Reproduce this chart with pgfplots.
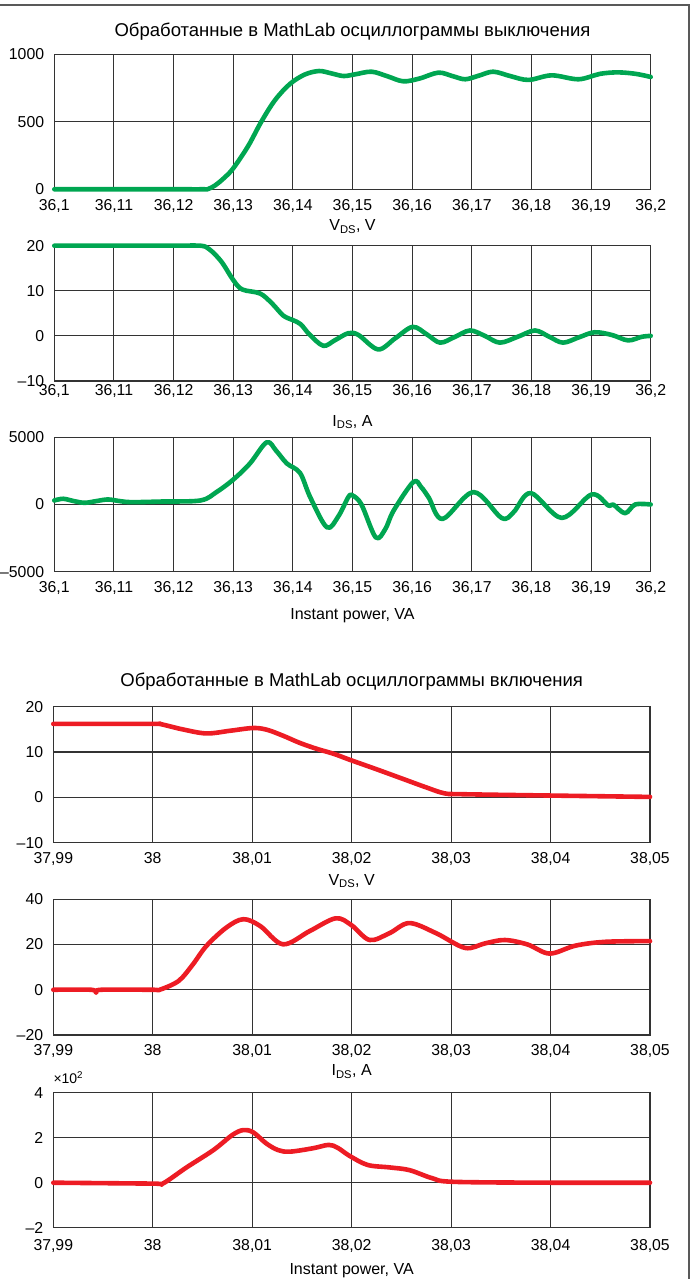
\documentclass[border=0pt]{standalone}
\usepackage{pgfplots}
\pgfplotsset{compat=1.18}
\usepackage{fontspec}
\setmainfont{Liberation Sans}
\definecolor{gridc}{HTML}{333333}
\definecolor{ogreen}{HTML}{00A651}
\definecolor{ored}{HTML}{ED1C24}
\newcommand\tickf{\fontsize{15.8}{18}\selectfont}
\newcommand\labf{\fontsize{16}{19}\selectfont}
\newcommand\titf{\fontsize{18.5}{22}\selectfont}
\pgfplotsset{
  osc/.style={
    scale only axis, clip=false,
    axis line style={line width=1.3pt, color=gridc},
    grid=major, major grid style={line width=1.1pt, color=gridc},
    major tick length=0pt, tick style={draw=none},
    yticklabel style={anchor=east, inner sep=0pt, xshift=-10pt},
    xticklabel style={anchor=base, inner sep=0pt},
    tick label style={font=\tickf},
    xlabel style={at={(axis description cs:0.5,0)}, anchor=base, inner sep=0pt, font=\labf},
    title style={at={(axis description cs:0.5,1)}, anchor=base, inner sep=0pt, font=\titf},
  },
  offx/.style={osc, width=596.4pt, xmin=36.1, xmax=36.2,
    xtick={36.1,36.11,36.12,36.13,36.14,36.15,36.16,36.17,36.18,36.19,36.2},
    xticklabels={{36,1},{36,11},{36,12},{36,13},{36,14},{36,15},{36,16},{36,17},{36,18},{36,19},{36,2}}},
  onx/.style={osc, width=596.7pt, xmin=37.99, xmax=38.05,
    xtick={37.99,38,38.01,38.02,38.03,38.04,38.05},
    xticklabels={{37,99},{38},{38,01},{38,02},{38,03},{38,04},{38,05}}},
  gline/.style={ogreen, line width=4.6pt, smooth, tension=0.55, line join=round, line cap=round},
  rline/.style={ored, line width=4.6pt, smooth, tension=0.55, line join=round, line cap=round},
}
\begin{document}
\begin{tikzpicture}
\useasboundingbox (0,0) rectangle (696pt,1279pt);
\draw[line width=1.3pt, black!65] (0,1274pt) -- (689pt,1274pt) -- (689pt,0);

% ---------- Plot 1: V_DS turn-off
\begin{axis}[offx, at={(54.3pt,1089.7pt)}, anchor=south west, height=135pt,
  ymin=0, ymax=1000, ytick={0,500,1000}, yticklabels={0,500,1000},
  xticklabel style={yshift=-20.9pt},
  xlabel={V\textsubscript{DS}, V}, xlabel style={yshift=-41.4pt},
  title={Обработанные в MathLab осциллограммы выключения}, title style={yshift=11.7pt}]
\addplot[gline] table {
36.1 0
36.11 0
36.12 0
36.1250 0
36.1258 2
36.127 30
36.1285 85
36.13 155
36.1325 320
36.1347 500
36.137 660
36.1395 780
36.142 850
36.1444 876
36.1465 858
36.1485 839
36.1505 852
36.1532 871
36.1558 838
36.1585 800
36.1612 820
36.1644 864
36.1668 838
36.1689 815
36.1712 842
36.1736 871
36.1765 838
36.1795 810
36.1834 844
36.1879 815
36.1915 855
36.1945 866
36.1975 855
36.2 832
};
\end{axis}

% ---------- Plot 2: I_DS turn-off
\begin{axis}[offx, at={(54.3pt,898pt)}, anchor=south west, height=135.3pt,
  ymin=-10, ymax=20, ytick={-10,0,10,20}, yticklabels={–10,0,10,20},
  xticklabel style={yshift=-14.4pt},
  xlabel={I\textsubscript{DS}, A}, xlabel style={yshift=-45.2pt}]
\addplot[gline] table {
36.1 20
36.12 20
36.1245 20
36.126 19.2
36.128 16.5
36.13 12.4
36.1315 10.3
36.1345 9.4
36.1365 7.2
36.1384 4.5
36.140 3.5
36.1413 2.6
36.1428 0.3
36.1451 -2.2
36.147 -1.0
36.1493 0.6
36.151 0.2
36.1543 -3
36.1572 -0.5
36.1601 2
36.1625 0.3
36.1647 -1.5
36.1672 -0.2
36.1697 1.2
36.1722 0
36.1747 -1.5
36.1777 -0.2
36.1806 1.2
36.183 -0.2
36.1853 -1.5
36.188 -0.3
36.1906 0.8
36.1935 0.2
36.1962 -1
36.1985 -0.2
36.2 0
};
\end{axis}

% ---------- Plot 3: power turn-off
\begin{axis}[offx, at={(54.3pt,707.3pt)}, anchor=south west, height=134.4pt,
  ymin=-5000, ymax=5000, ytick={-5000,0,5000}, yticklabels={–5000,0,5000},
  xticklabel style={yshift=-20.9pt},
  xlabel={Instant power, VA}, xlabel style={yshift=-47.7pt}]
\addplot[gline] table {
36.1 300
36.1015 425
36.1033 250
36.1051 125
36.107 250
36.109 375
36.111 250
36.113 175
36.118 220
36.1245 300
36.1272 925
36.13 1850
36.1328 3050
36.1356 4625
36.1372 4000
36.139 3050
36.1412 2350
36.1429 550
36.1457 -1700
36.1476 -900
36.1493 550
36.15 675
36.1515 0
36.1539 -2450
36.1555 -1825
36.1569 -450
36.1602 1675
36.1615 1300
36.1628 500
36.1651 -1075
36.1703 925
36.175 -1000
36.177 -575
36.1799 850
36.1851 -1000
36.1901 750
36.1929 -75
36.1937 0
36.1957 -650
36.1974 0
36.2 0
};
\end{axis}

% ---------- Plot 4: V_DS turn-on
\begin{axis}[onx, at={(53.3pt,436.3pt)}, anchor=south west, height=136pt,
  ymin=-10, ymax=20, ytick={-10,0,10,20}, yticklabels={–10,0,10,20},
  xticklabel style={yshift=-20.4pt},
  xlabel={V\textsubscript{DS}, V}, xlabel style={yshift=-42.7pt},
  title={Обработанные в MathLab осциллограммы включения}, title style={yshift=14.1pt}]
\addplot[rline] table {
37.99 16.2
38.0 16.2
38.0007 16.2
38.003 15.0
38.0054 14.1
38.0078 14.7
38.0101 15.3
38.0115 14.9
38.0131 13.6
38.0148 12.0
38.0165 10.7
38.0182 9.6
38.0198 8.3
38.0225 6.2
38.025 4.2
38.0275 2.2
38.0293 0.9
38.031 0.7
38.04 0.4
38.05 0.1
};
\end{axis}

% ---------- Plot 5: I_DS turn-on
\begin{axis}[onx, at={(53.3pt,244pt)}, anchor=south west, height=135.7pt,
  ymin=-20, ymax=40, ytick={-20,0,20,40}, yticklabels={–20,0,20,40},
  xticklabel style={yshift=-20.9pt},
  xlabel={I\textsubscript{DS}, A}, xlabel style={yshift=-40.7pt}]
\addplot[rline] table {
37.99 0
37.9938 0
37.9943 -1.3
37.9948 0
38.0 0
38.0007 0
38.0026 3.9
38.004 11
38.0054 19.4
38.0074 27.5
38.0091 31.2
38.0108 28.2
38.0131 20.1
38.0158 26
38.0184 31.6
38.02 28.5
38.0218 22
38.0238 25
38.0258 29.5
38.0285 25
38.0314 18.5
38.0334 20.5
38.0354 22
38.0377 20
38.0399 16
38.0425 19.5
38.0455 21.2
38.05 21.5
};
\end{axis}

% ---------- Plot 6: power turn-on (x10^2)
\begin{axis}[onx, at={(53.3pt,51.3pt)}, anchor=south west, height=135pt,
  ymin=-2, ymax=4, ytick={-2,0,2,4}, yticklabels={–2,0,2,4},
  xticklabel style={yshift=-22.9pt},
  xlabel={Instant power, VA}, xlabel style={yshift=-46.7pt}]
\addplot[rline] table {
37.99 0
38.0 -0.04
38.0010 -0.04
38.0034 0.68
38.0061 1.45
38.008 2.12
38.0091 2.34
38.0101 2.24
38.0114 1.75
38.0126 1.45
38.0138 1.38
38.0161 1.53
38.0177 1.68
38.0186 1.55
38.0198 1.19
38.0216 0.79
38.0238 0.68
38.0258 0.56
38.0281 0.2
38.0302 0.04
38.04 0
38.05 0
};
\node[anchor=base west, inner sep=0pt, font=\fontsize{14}{16}\selectfont] at (axis description cs:0,1) [yshift=9pt] {×10\textsuperscript{2}};
\end{axis}
\end{tikzpicture}
\end{document}
